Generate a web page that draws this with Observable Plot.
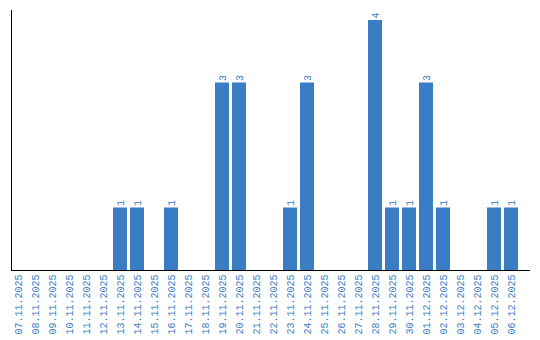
<!DOCTYPE html>
<html><head><meta charset="utf-8">
<script src="https://cdn.jsdelivr.net/npm/d3@7"></script>
<script src="https://cdn.jsdelivr.net/npm/@observablehq/plot@0.6"></script>
<style>body{margin:0;background:#fff}</style>
</head><body><div id="chart"></div>
<script>
const dates = ["07.11.2025","08.11.2025","09.11.2025","10.11.2025","11.11.2025","12.11.2025","13.11.2025","14.11.2025","15.11.2025","16.11.2025","17.11.2025","18.11.2025","19.11.2025","20.11.2025","21.11.2025","22.11.2025","23.11.2025","24.11.2025","25.11.2025","26.11.2025","27.11.2025","28.11.2025","29.11.2025","30.11.2025","01.12.2025","02.12.2025","03.12.2025","04.12.2025","05.12.2025","06.12.2025"];
const counts = [0,0,0,0,0,0,1,1,0,1,0,0,3,3,0,0,1,3,0,0,0,4,1,1,3,1,0,0,1,1];
const data = dates.map((d,i)=>({date:d, count:counts[i]}));
const nonzero = data.filter(d=>d.count>0);
const blue = "#3b7dc4";
const chart = Plot.plot({
  width: 540, height: 340,
  marginLeft: 11, marginRight: 10, marginTop: 10, marginBottom: 70,
  style: {fontFamily: "Liberation Mono", fontSize: "10px", color: blue, background: "#fff"},
  x: {domain: dates, range: [9.5, 519.5], paddingInner: 0.176, paddingOuter: 0.088, label: null},
  y: {domain: [0, 4.16], axis: null},
  marks: [
    Plot.barY(data, {x: "date", y: "count", fill: blue}),
    Plot.text(nonzero, {x: "date", y: "count", text: d=>String(d.count), rotate: -90, textAnchor: "start", dy: -2, fill: blue, fontSize: 10}),
    Plot.axisX({tickRotate: -90, tickSize: 0, tickPadding: 4, label: null, fill: blue}),
    Plot.ruleY([0], {stroke: "#000"}),
    Plot.frame({anchor: "left", stroke: "#000"})
  ]
});
document.getElementById("chart").appendChild(chart);
</script></body></html>
